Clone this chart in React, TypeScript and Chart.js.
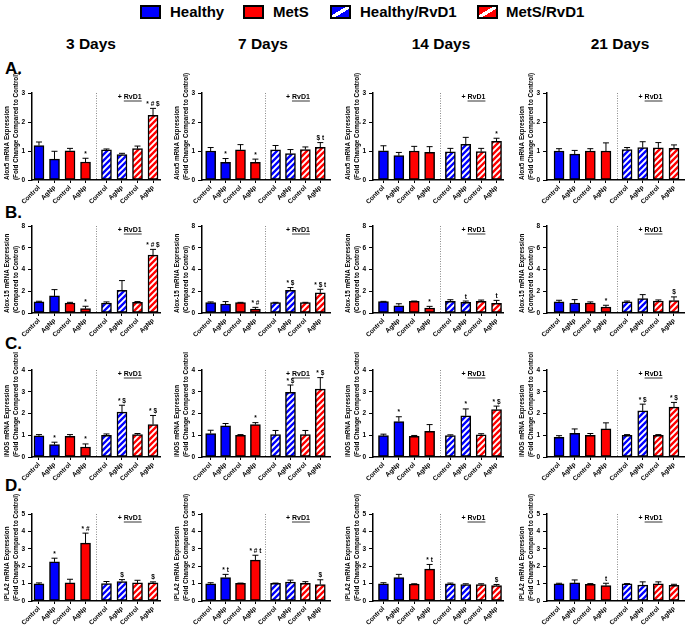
import React, { useEffect, useRef } from 'react';
import { Chart, registerables } from 'chart.js';
Chart.register(...registerables);

const FONT = "'Liberation Sans', Arial, Helvetica, sans-serif";

const categories = ['Control', 'AgNp', 'Control', 'AgNp', 'Control', 'AgNp', 'Control', 'AgNp'];
const groupNames = ['Healthy', 'MetS', 'Healthy/RvD1', 'MetS/RvD1'];
const dayLabels = ['3 Days', '7 Days', '14 Days', '21 Days'];
const rowLetters = ['A.', 'B.', 'C.', 'D.'];

// Alox5 (rows = 3, 7, 14, 21 days)
const alox5Mean = [
  [1.19, 0.72, 1.01, 0.62, 1.04, 0.88, 1.08, 2.23],
  [1.0, 0.61, 1.04, 0.61, 1.04, 0.91, 1.05, 1.13],
  [1.01, 0.84, 1.0, 0.95, 0.97, 1.23, 0.98, 1.33],
  [1.0, 0.89, 1.0, 1.0, 1.05, 1.12, 1.11, 1.09],
];
const alox5Err = [
  [0.12, 0.27, 0.08, 0.13, 0.03, 0.04, 0.09, 0.24],
  [0.12, 0.13, 0.18, 0.11, 0.15, 0.14, 0.09, 0.16],
  [0.17, 0.11, 0.16, 0.2, 0.12, 0.24, 0.11, 0.11],
  [0.08, 0.13, 0.08, 0.28, 0.07, 0.2, 0.18, 0.12],
];
const alox5Sig = [
  ['', '', '', '*', '', '', '', '* # $'],
  ['', '*', '', '*', '', '', '', '$ t'],
  ['', '', '', '', '', '', '', '*'],
  ['', '', '', '', '', '', '', ''],
];

// Alox-15
const alox15Mean = [
  [1.02, 1.57, 0.92, 0.4, 0.92, 2.09, 0.98, 5.32],
  [0.95, 0.83, 0.95, 0.37, 0.95, 2.09, 0.95, 1.85],
  [1.04, 0.67, 1.07, 0.46, 1.07, 0.98, 1.07, 0.89],
  [1.02, 0.92, 0.92, 0.55, 1.02, 1.32, 1.1, 1.14],
];
const alox15Err = [
  [0.06, 0.58, 0.06, 0.22, 0.1, 0.89, 0.07, 0.53],
  [0.07, 0.22, 0.03, 0.15, 0.03, 0.25, 0.03, 0.33],
  [0.03, 0.18, 0.03, 0.15, 0.15, 0.12, 0.12, 0.27],
  [0.15, 0.31, 0.1, 0.16, 0.08, 0.37, 0.1, 0.34],
];
const alox15Sig = [
  ['', '', '', '*', '', '', '', '* # $'],
  ['', '', '', '* #', '', '* $', '', '* $ t'],
  ['', '', '', '*', '', 't', '', 't'],
  ['', '', '', '*', '', '', '', '$'],
];

// iNOS
const inosMean = [
  [0.97, 0.57, 0.95, 0.46, 1.0, 2.06, 1.03, 1.49],
  [1.08, 1.43, 1.0, 1.49, 1.03, 2.97, 1.03, 3.12],
  [0.98, 1.63, 0.95, 1.18, 0.99, 1.89, 1.02, 2.18],
  [0.91, 1.09, 1.0, 1.29, 1.0, 2.12, 1.0, 2.29],
];
const inosErr = [
  [0.06, 0.11, 0.08, 0.14, 0.06, 0.32, 0.05, 0.42],
  [0.15, 0.11, 0.03, 0.09, 0.19, 0.34, 0.19, 0.53],
  [0.07, 0.22, 0.04, 0.31, 0.03, 0.32, 0.05, 0.16],
  [0.07, 0.2, 0.08, 0.28, 0.03, 0.31, 0.03, 0.22],
];
const inosSig = [
  ['', '*', '', '*', '', '* $', '', '* $'],
  ['', '', '', '*', '', '* $', '', '* $'],
  ['', '*', '', '', '', '*', '', '* $'],
  ['', '', '', '', '', '* $', '', '* $'],
];

// iPLA2
const ipla2Mean = [
  [0.98, 2.25, 1.04, 3.33, 1.0, 1.12, 1.04, 1.04],
  [0.99, 1.35, 1.01, 2.35, 1.01, 1.09, 1.01, 0.95],
  [0.99, 1.34, 0.97, 1.83, 0.99, 0.95, 0.95, 0.88],
  [0.98, 1.04, 0.96, 0.88, 0.98, 0.92, 0.98, 0.9],
];
const ipla2Err = [
  [0.06, 0.21, 0.21, 0.57, 0.12, 0.11, 0.15, 0.06],
  [0.06, 0.18, 0.02, 0.28, 0.02, 0.11, 0.1, 0.27],
  [0.06, 0.19, 0.02, 0.27, 0.04, 0.04, 0.04, 0.07],
  [0.04, 0.17, 0.04, 0.14, 0.02, 0.18, 0.12, 0.06],
];
const ipla2Sig = [
  ['', '*', '', '* #', '', '$', '', '$'],
  ['', '* t', '', '* # t', '', '', '', '$'],
  ['', '', '', '* t', '', '', '', '$'],
  ['', '', '', 't', '', '', '', ''],
];

const yTitles = [
  ['Alox5 mRNA Expression', '(Fold Change Compared to Control)'],
  ['Alox-15 mRNA Expression', '(Compared to Control)'],
  ['iNOS mRNA Expression', '(Fold Change Compared to Control'],
  ['iPLA2 mRNA Expression', '(Fold Change Compared to Control)'],
];
const yMax = [3, 8, 4, 5];
const yStep = [1, 2, 1, 1];

const MEANS = [alox5Mean, alox15Mean, inosMean, ipla2Mean];
const ERRS = [alox5Err, alox15Err, inosErr, ipla2Err];
const SIGS = [alox5Sig, alox15Sig, inosSig, ipla2Sig];

// layout
const BLUE = '#0000ff';
const RED = '#ff0000';
const ROW_TOP = [93, 226, 370, 514];
const PLOT_H = 87;
const COL_LEFT = [32, 202, 373, 547];
const COL_RIGHT = [160, 330, 503, 684];
const X_MIN = [-0.45, -0.58, -0.68, -0.77];
const X_MAX = [7.8, 8.0, 7.77, 7.99];
const GROUP_GAP = 0.35;
const Y_AXIS_W = 31;
const PAD_TOP = 25;
const X_AXIS_H = 30;
const PAD_RIGHT = 1;

function makeHatch(color: string): CanvasPattern | string {
  const s = 6;
  const c = document.createElement('canvas');
  c.width = s;
  c.height = s;
  const g = c.getContext('2d');
  if (!g) return color;
  g.fillStyle = color;
  g.fillRect(0, 0, s, s);
  g.strokeStyle = '#ffffff';
  g.lineWidth = 1.9;
  g.beginPath();
  g.moveTo(-1, 1);
  g.lineTo(1, -1);
  g.moveTo(0, s);
  g.lineTo(s, 0);
  g.moveTo(s - 1, s + 1);
  g.lineTo(s + 1, s - 1);
  g.stroke();
  const p = g.createPattern(c, 'repeat');
  return p || color;
}

const positions = categories.map((_, i) => i + (i >= 4 ? GROUP_GAP : 0));

function Panel({ row, col }: { row: number; col: number }) {
  const ref = useRef<HTMLCanvasElement>(null);
  const plotW = COL_RIGHT[col] - COL_LEFT[col];
  const cw = Y_AXIS_W + plotW + PAD_RIGHT;
  const ch = PAD_TOP + PLOT_H + X_AXIS_H;
  const left = COL_LEFT[col] - Y_AXIS_W;
  const top = ROW_TOP[row] - PAD_TOP;

  useEffect(() => {
    const canvas = ref.current;
    if (!canvas) return;
    const means = MEANS[row][col];
    const errs = ERRS[row][col];
    const sigs = SIGS[row][col];
    const hb = makeHatch(BLUE);
    const hr = makeHatch(RED);
    const colors = [BLUE, BLUE, RED, RED, hb, hb, hr, hr];
    const font = { family: FONT, size: 6.5, weight: 'bold' as const };

    const overlay = {
      id: 'overlay' + row + col,
      afterDatasetsDraw(chart: any) {
        const ctx = chart.ctx as CanvasRenderingContext2D;
        const xs = chart.scales.x;
        const ys = chart.scales.y;
        const area = chart.chartArea;
        ctx.save();
        // separator
        const sepX = Math.round(xs.getPixelForValue((positions[3] + positions[4]) / 2)) + 0.5;
        ctx.strokeStyle = '#8a8a8a';
        ctx.lineWidth = 1;
        ctx.setLineDash([1, 1.5]);
        ctx.beginPath();
        ctx.moveTo(sepX, area.top);
        ctx.lineTo(sepX, area.bottom);
        ctx.stroke();
        ctx.setLineDash([]);
        // error bars
        ctx.strokeStyle = '#000';
        ctx.lineWidth = 1;
        ctx.fillStyle = '#000';
        ctx.font = `bold 6.5px ${FONT}`;
        ctx.textAlign = 'center';
        ctx.textBaseline = 'alphabetic';
        for (let i = 0; i < means.length; i++) {
          const x = xs.getPixelForValue(positions[i]);
          const y0 = ys.getPixelForValue(means[i]);
          const y1 = ys.getPixelForValue(means[i] + errs[i]);
          ctx.beginPath();
          ctx.moveTo(x, y0);
          ctx.lineTo(x, y1);
          ctx.moveTo(x - 3, y1);
          ctx.lineTo(x + 3, y1);
          ctx.stroke();
          if (sigs[i]) {
            ctx.fillText(sigs[i], x, y1 - 2.5);
          }
        }
        // + RvD1 label
        const cx = xs.getPixelForValue((positions[4] + positions[7]) / 2);
        const cy = area.top + 4;
        ctx.font = `bold 7px ${FONT}`;
        ctx.textBaseline = 'middle';
        ctx.textAlign = 'left';
        const a = '+ ';
        const b = 'RvD1';
        const wa = ctx.measureText(a).width;
        const wb = ctx.measureText(b).width;
        const sx = cx - (wa + wb) / 2;
        ctx.fillText(a, sx, cy);
        ctx.fillText(b, sx + wa, cy);
        ctx.beginPath();
        ctx.moveTo(sx + wa, cy + 4);
        ctx.lineTo(sx + wa + wb, cy + 4);
        ctx.lineWidth = 0.8;
        ctx.stroke();
        ctx.restore();
      },
    };

    const chart = new Chart(canvas, {
      type: 'bar',
      data: {
        datasets: [
          {
            data: positions.map((x, i) => ({ x, y: means[i] })),
            backgroundColor: colors as any,
            borderColor: '#000',
            borderWidth: 1.5,
            borderSkipped: false,
            barThickness: 10,
          },
        ],
      },
      options: {
        responsive: false,
        animation: false,
        devicePixelRatio: 1,
        layout: { padding: { top: PAD_TOP, right: PAD_RIGHT, left: 0, bottom: 0 } },
        plugins: { legend: { display: false }, tooltip: { enabled: false }, title: { display: false } },
        scales: {
          x: {
            type: 'linear',
            min: X_MIN[col],
            max: X_MAX[col],
            offset: false,
            bounds: 'data',
            afterBuildTicks: (s: any) => {
              s.ticks = positions.map((v) => ({ value: v }));
            },
            afterFit: (s: any) => {
              s.height = X_AXIS_H;
            },
            ticks: {
              autoSkip: false,
              minRotation: 45,
              maxRotation: 45,
              padding: 1,
              color: '#000',
              font,
              callback: (_v: any, i: number) => categories[i],
            },
            grid: { display: true, drawOnChartArea: false, drawTicks: true, tickLength: 3, color: '#000', lineWidth: 1, offset: false },
            border: { display: true, color: '#000', width: 1.5 },
          },
          y: {
            min: 0,
            max: yMax[row],
            afterFit: (s: any) => {
              s.width = Y_AXIS_W;
            },
            ticks: { stepSize: yStep[row], padding: 3, color: '#000', font },
            grid: { display: true, drawOnChartArea: false, drawTicks: true, tickLength: 4, color: '#000', lineWidth: 1 },
            border: { display: true, color: '#000', width: 1.5 },
            title: {
              display: true,
              text: yTitles[row],
              align: 'start',
              color: '#000',
              font: { family: FONT, size: 6.3, weight: 'bold', lineHeight: 1.3 },
              padding: { top: 2.5, bottom: 0 },
            },
          },
        },
      } as any,
      plugins: [overlay],
    });
    return () => chart.destroy();
  }, [row, col]);

  return (
    <canvas
      ref={ref}
      width={cw}
      height={ch}
      style={{ position: 'absolute', left, top, width: cw, height: ch }}
    />
  );
}

const legendBoxX = [140, 243, 330, 477];
const legendTextX = [170, 273, 360, 506];
const dayCenterX = [91, 263, 441, 620];
const rowLetterY = [69, 213, 344, 486];

function legendBg(i: number): string {
  const c = i % 2 === 0 ? BLUE : RED;
  if (i < 2) return c;
  return `linear-gradient(to bottom right, ${c} 0%, ${c} 40%, #fff 40%, #fff 60%, ${c} 60%, ${c} 100%)`;
}

export default function App() {
  const panels: JSX.Element[] = [];
  for (let r = 0; r < 4; r++) {
    for (let c = 0; c < 4; c++) {
      panels.push(<Panel key={`${r}-${c}`} row={r} col={c} />);
    }
  }
  return (
    <div
      style={{
        position: 'absolute',
        left: 0,
        top: 0,
        width: 685,
        height: 628,
        background: '#fff',
        overflow: 'hidden',
        fontFamily: FONT,
        color: '#000',
      }}
    >
      {groupNames.map((g, i) => (
        <React.Fragment key={g}>
          <div
            style={{
              position: 'absolute',
              left: legendBoxX[i],
              top: 5,
              width: 21,
              height: 14,
              boxSizing: 'border-box',
              border: '2px solid #000',
              background: legendBg(i),
            }}
          />
          <div
            style={{
              position: 'absolute',
              left: legendTextX[i],
              top: 3,
              lineHeight: '18px',
              fontSize: 15,
              fontWeight: 'bold',
              whiteSpace: 'nowrap',
            }}
          >
            {g}
          </div>
        </React.Fragment>
      ))}
      {dayLabels.map((d, i) => (
        <div
          key={d}
          style={{
            position: 'absolute',
            left: dayCenterX[i] - 50,
            top: 35,
            width: 100,
            textAlign: 'center',
            lineHeight: '18px',
            fontSize: 15.5,
            fontWeight: 'bold',
          }}
        >
          {d}
        </div>
      ))}
      {rowLetters.map((l, i) => (
        <div
          key={l}
          style={{
            position: 'absolute',
            left: 5,
            top: rowLetterY[i] - 10,
            lineHeight: '20px',
            fontSize: 17,
            fontWeight: 'bold',
          }}
        >
          {l}
        </div>
      ))}
      {panels}
    </div>
  );
}
